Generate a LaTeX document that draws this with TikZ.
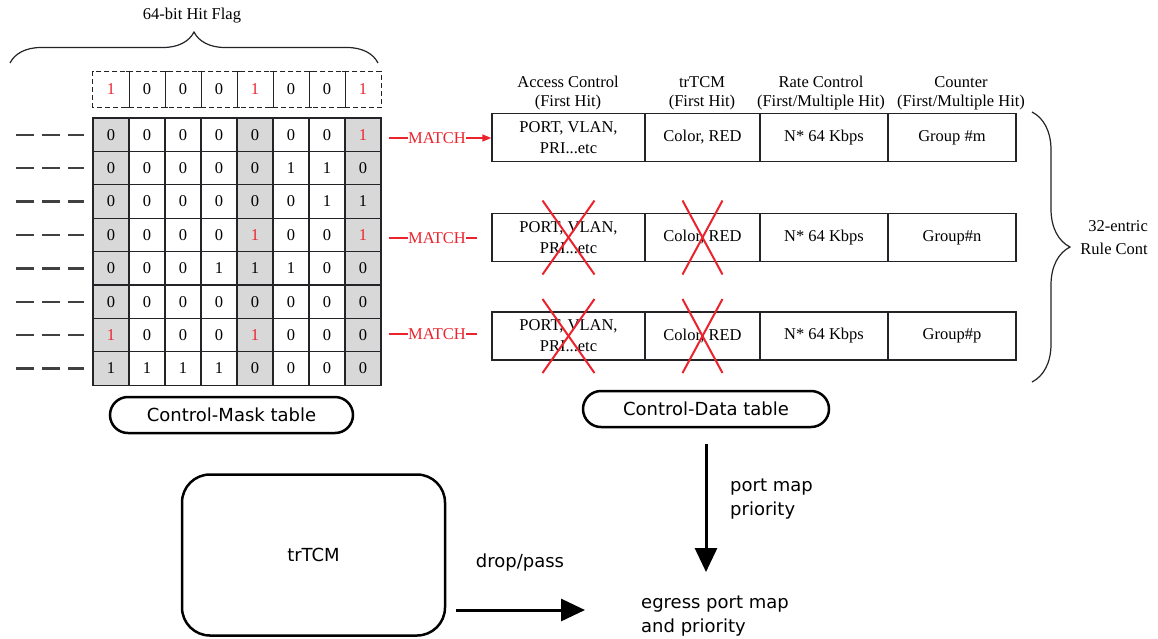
\documentclass[tikz,border=0pt]{standalone}
\usepackage{fontspec}
\setmainfont{Liberation Serif}
\newfontfamily\sansf{DejaVu Sans}
\usetikzlibrary{decorations.pathreplacing,arrows.meta,calc}
\definecolor{mred}{RGB}{235,35,45}
\definecolor{cellgray}{RGB}{216,216,216}
\definecolor{ink}{RGB}{35,35,40}
\newcommand{\R}{\textcolor{mred}{1}}
\begin{document}
\begin{tikzpicture}[x=1pt,y=-1pt,
  serif/.style={font=\fontsize{16.5}{19}\selectfont, inner sep=0pt, align=center},
  sanstxt/.style={font=\sansf\fontsize{18}{24}\selectfont, inner sep=0pt, align=left},
  cell/.style={draw=ink, line width=1.3pt, minimum width=36pt, minimum height=33.4pt, inner sep=0pt, font=\fontsize{16.5}{19}\selectfont},
  flagcell/.style={minimum width=36pt, minimum height=35.5pt, inner sep=0pt, font=\fontsize{16.5}{19}\selectfont},
  tcell/.style={draw=ink, line width=1.3pt, minimum height=48pt, inner sep=0pt, align=center, font=\fontsize{16.5}{21}\selectfont},
  leftdash/.style={draw=black!75, line width=2.4pt, dash pattern=on 18pt off 8pt},
  flagborder/.style={draw=ink, line width=1.3pt, dash pattern=on 5pt off 3pt},
  bracestyle/.style={draw=ink, line width=1.2pt, decorate},
  redline/.style={draw=mred, line width=1.3pt},
  crossline/.style={draw=mred, line width=2pt},
  pill/.style={draw=black, line width=2.5pt, rounded corners=18pt, minimum height=36pt, inner sep=0pt, font=\sansf\fontsize{18}{24}\selectfont},
  bigarrow/.style={draw=black, line width=3pt, -{Triangle[length=24pt,width=22pt]}}
]
\useasboundingbox (0,0) rectangle (1158,638);

% ---------- Control-Mask grid ----------
\foreach \c in {1,5,8}
  \fill[cellgray] ({93+36*(\c-1)},118) rectangle ++(36,267.2);
\foreach \r/\row in {1/{0,0,0,0,0,0,0,\R},
                     2/{0,0,0,0,0,1,1,0},
                     3/{0,0,0,0,0,0,1,1},
                     4/{0,0,0,0,\R,0,0,\R},
                     5/{0,0,0,1,1,1,0,0},
                     6/{0,0,0,0,0,0,0,0},
                     7/{\R,0,0,0,\R,0,0,0},
                     8/{1,1,1,1,0,0,0,0}} {
  \foreach \v [count=\c] in \row {
    \node[cell] (m\r-\c) at ({93+36*\c-18},{118+33.4*\r-16.7}) {\v};
  }
  \coordinate (dl\r) at (16,{118+33.4*\r-16.7});
  \draw[leftdash] (dl\r) -- ([xshift=-8pt]m\r-1.west);
}

% ---------- Hit flag row ----------
\foreach \v [count=\c] in {\R,0,0,0,\R,0,0,\R}
  \node[flagcell] (h\c) at ({93+36*\c-18},89.3) {\v};
\draw[flagborder] (h1.north west) rectangle (h8.south east);
\foreach \c in {1,...,7} {
  \draw[draw=ink, line width=1.3pt] (h\c.north east) -- (h\c.south east);
  \draw[draw=ink, line width=1.3pt] ([xshift=-3pt]h\c.north east) -- ([xshift=3pt]h\c.north east);
  \draw[draw=ink, line width=1.3pt] ([xshift=-3pt]h\c.south east) -- ([xshift=3pt]h\c.south east);
}
\coordinate (hb0) at (10,63);
\coordinate (hb1) at (378,63);
\draw[bracestyle, decoration={brace, amplitude=31pt}] (hb0) -- (hb1);
\node[serif] (hflabel) at (192,16) {64-bit Hit Flag};

\node[pill, minimum width=243pt] (cmt) at (231.5,415) {Control-Mask table};

% ---------- Control-Data table ----------
\node[serif] (hd1) at (568,93.5) {Access Control\\(First Hit)};
\node[serif] (hd2) at (702,93.5) {trTCM\\(First Hit)};
\node[serif] (hd3) at (821,93.5) {Rate Control\\(First/Multiple Hit)};
\node[serif] (hd4) at (961,93.5) {Counter\\(First/Multiple Hit)};

\node[tcell, minimum width=153pt] (c11) at (568.5,137.5) {PORT, VLAN,\\PRI...etc};
\node[tcell, minimum width=115pt] (c12) at (702.5,137.5) {Color, RED};
\node[tcell, minimum width=128pt] (c13) at (824,137.5) {N* 64 Kbps};
\node[tcell, minimum width=128pt] (c14) at (952,137.5) {Group \#m};

\node[tcell, minimum width=153pt] (c21) at (568.5,237.5) {PORT, VLAN,\\PRI...etc};
\node[tcell, minimum width=115pt] (c22) at (702.5,237.5) {Color, RED};
\node[tcell, minimum width=128pt] (c23) at (824,237.5) {N* 64 Kbps};
\node[tcell, minimum width=128pt] (c24) at (952,237.5) {Group\#n};

\node[tcell, minimum width=153pt] (c31) at (568.5,336) {PORT, VLAN,\\PRI...etc};
\node[tcell, minimum width=115pt] (c32) at (702.5,336) {Color, RED};
\node[tcell, minimum width=128pt] (c33) at (824,336) {N* 64 Kbps};
\node[tcell, minimum width=128pt] (c34) at (952,336) {Group\#p};

\foreach \r in {2,3} {
  \draw[crossline] ($(c\r1)+(-26,-37)$) -- ($(c\r1)+(26,37)$);
  \draw[crossline] ($(c\r1)+(26,-37)$) -- ($(c\r1)+(-26,37)$);
  \draw[crossline] ($(c\r2)+(-20,-37)$) -- ($(c\r2)+(20,37)$);
  \draw[crossline] ($(c\r2)+(20,-37)$) -- ($(c\r2)+(-20,37)$);
}

% ---------- MATCH connectors ----------
\node[serif, text=mred] (mt1) at (437,138) {MATCH};
\node[serif, text=mred] (mt2) at (437,238) {MATCH};
\node[serif, text=mred] (mt3) at (437,334) {MATCH};
\coordinate (ms1) at (389,138);
\coordinate (ms2) at (389,238);
\coordinate (ms3) at (389,334);
\coordinate (me2) at (477,238);
\coordinate (me3) at (477,334);
\draw[redline] (ms1) -- (mt1);
\draw[redline] (ms2) -- (mt2);
\draw[redline] (ms3) -- (mt3);
\draw[redline, -{Triangle[length=9pt,width=7pt]}] (mt1) -- (c11.west |- mt1);
\draw[redline] (mt2) -- (me2);
\draw[redline] (mt3) -- (me3);

% ---------- right brace ----------
\coordinate (rb0) at (1032,112);
\coordinate (rb1) at (1032,382);
\draw[bracestyle, decoration={brace, amplitude=38pt}] (rb0) -- (rb1);
\node[serif, anchor=east, align=right, font=\fontsize{16.5}{23}\selectfont] (rc) at (1148,238) {32-entric\\Rule Cont};

\node[pill, minimum width=246pt] (cdt) at (706,409) {Control-Data table};

% ---------- bottom ----------
\node[draw=black, line width=2.5pt, rounded corners=28pt, minimum width=263pt, minimum height=161pt, inner sep=0pt, font=\sansf\fontsize{18}{24}\selectfont] (trtcm) at (313.5,555) {trTCM};

\node[sanstxt, anchor=west] (egress) at (641,616) {egress port map\\and priority};
\coordinate (pm1) at (706,572);
\draw[bigarrow] ([yshift=-16pt]cdt.south) -- (pm1);
\node[sanstxt, anchor=west] (pmlabel) at (730,499) {port map\\priority};

\coordinate (dp1) at (585,610);
\draw[bigarrow] ([xshift=10pt]trtcm.east |- dp1) -- (dp1);
\node[sanstxt] (dplabel) at (520,563) {drop/pass};
\end{tikzpicture}
\end{document}
